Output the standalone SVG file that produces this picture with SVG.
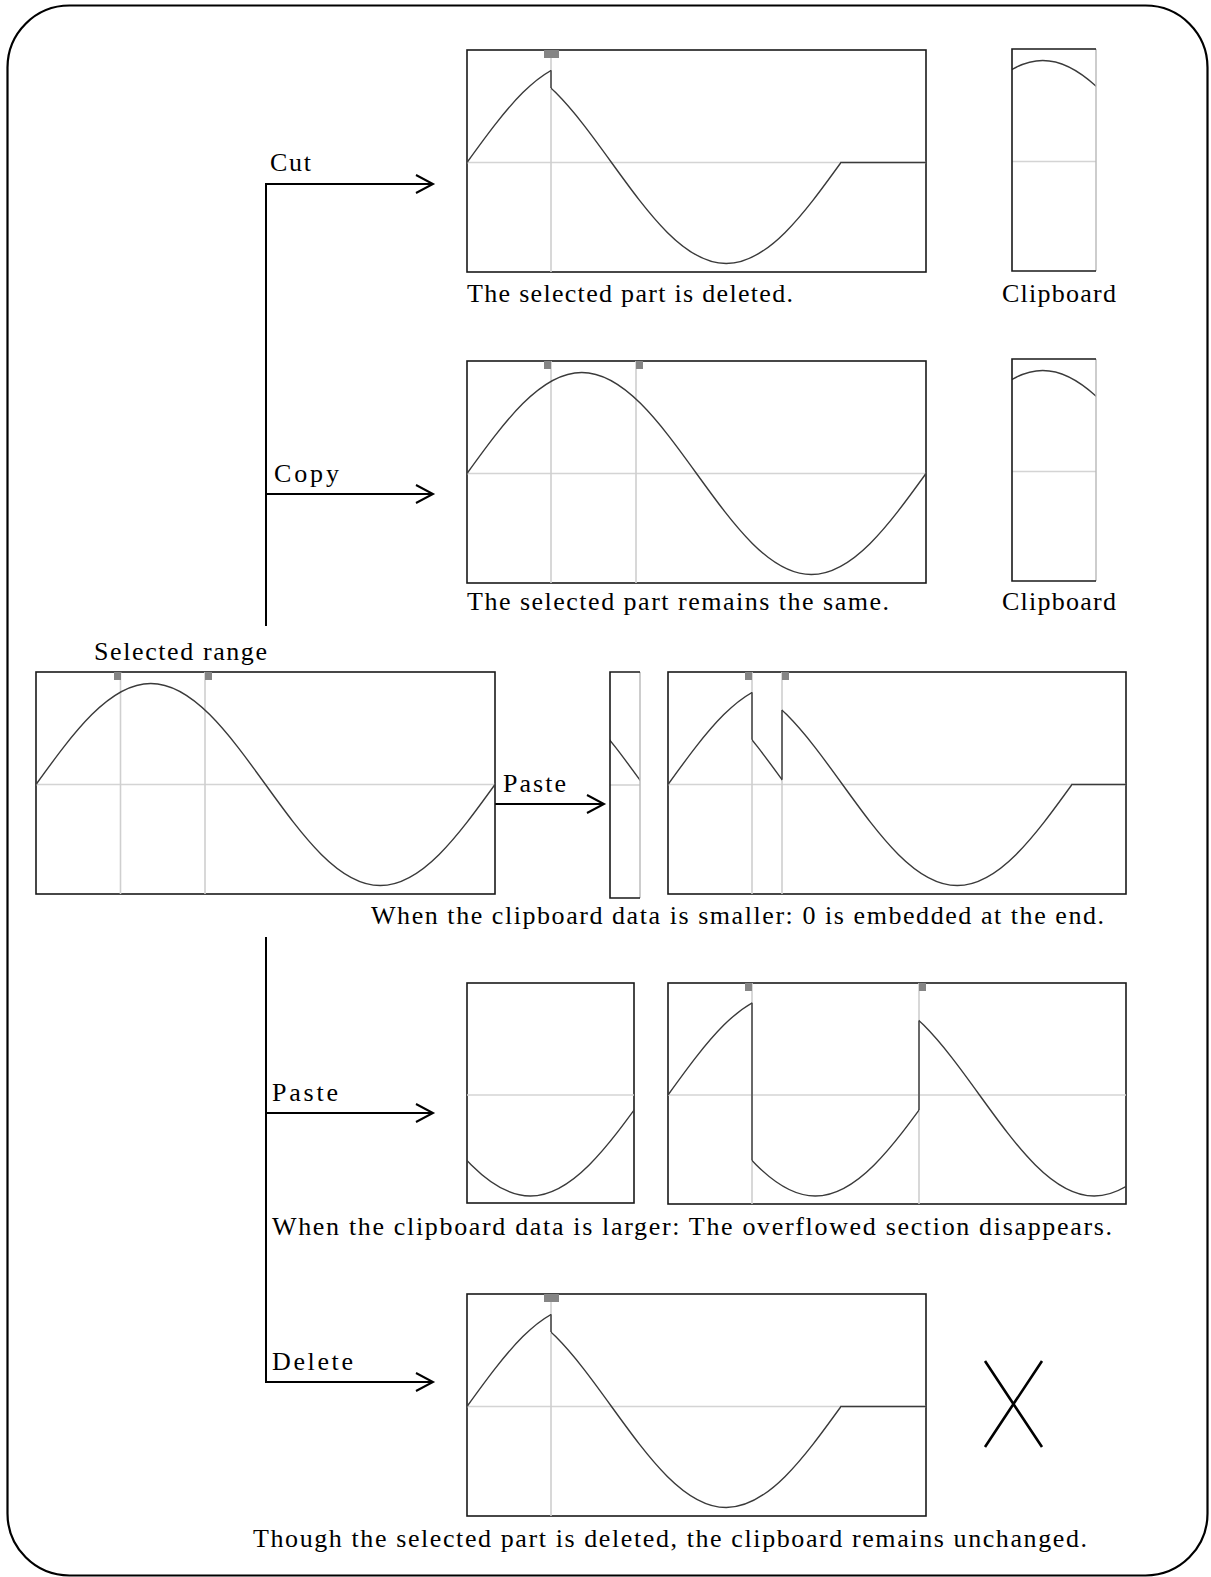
<svg xmlns="http://www.w3.org/2000/svg" xmlns:xlink="http://www.w3.org/1999/xlink" width="1211" height="1577" viewBox="0 0 1211 1577">
<style>
.t{font-family:"Liberation Serif","Times New Roman",serif;font-size:26px;fill:#000}
.frame{fill:#fff;stroke:#1a1a1a;stroke-width:1.6}
.edge{stroke:#1a1a1a;stroke-width:1.6;fill:none}
.ledge{stroke:#b8b8b8;stroke-width:1.4;fill:none}
.grid{stroke:#d4d4d4;stroke-width:1.6;fill:none}
.cur{stroke:#cfcfcf;stroke-width:1.6;fill:none}
.wave{stroke:#3a3a3a;stroke-width:1.4;fill:none}
.mk{fill:#858585}
.conn{stroke:#000;stroke-width:2;fill:none}
</style>
<defs>
<path id="sw" class="wave" d="M0,0 C37.42,-51.74 73.22,-101 114.75,-101 C156.28,-101 192.08,-51.74 229.5,0 C266.92,51.74 302.72,101 344.25,101 C385.78,101 421.58,51.74 459,0 C496.42,-51.74 532.22,-101 573.75,-101 C615.28,-101 651.08,-51.74 688.5,0 C725.92,51.74 761.72,101 803.25,101 C844.78,101 880.58,51.74 918,0"/>
<marker id="ah" markerUnits="userSpaceOnUse" markerWidth="24" markerHeight="24" refX="18" refY="10" orient="auto" viewBox="0 0 24 20">
<path d="M1,1 L18,10 L1,19" fill="none" stroke="#000" stroke-width="2"/>
</marker>
<clipPath id="kc1"><rect x="467" y="40" width="84" height="250"/></clipPath>
<clipPath id="kc2"><rect x="551" y="40" width="290" height="250"/></clipPath>
<clipPath id="kb1"><rect x="1012" y="40" width="84" height="250"/></clipPath>
<clipPath id="kp"><rect x="467" y="350" width="459" height="250"/></clipPath>
<clipPath id="kb2"><rect x="1012" y="350" width="84" height="250"/></clipPath>
<clipPath id="ks"><rect x="36" y="660" width="459" height="250"/></clipPath>
<clipPath id="kb3"><rect x="610" y="660" width="30" height="250"/></clipPath>
<clipPath id="kr1"><rect x="668" y="660" width="84" height="250"/></clipPath>
<clipPath id="kr2"><rect x="752" y="660" width="30" height="250"/></clipPath>
<clipPath id="kr3"><rect x="782" y="660" width="290" height="250"/></clipPath>
<clipPath id="kb4"><rect x="467" y="970" width="167" height="250"/></clipPath>
<clipPath id="kq1"><rect x="668" y="970" width="84" height="250"/></clipPath>
<clipPath id="kq2"><rect x="752" y="970" width="167" height="250"/></clipPath>
<clipPath id="kq3"><rect x="919" y="970" width="207" height="250"/></clipPath>
<clipPath id="kd1"><rect x="467" y="1280" width="84" height="250"/></clipPath>
<clipPath id="kd2"><rect x="551" y="1280" width="290" height="250"/></clipPath>
</defs>
<rect x="0" y="0" width="1211" height="1577" fill="#fff"/>
<rect x="7.5" y="5.5" width="1200" height="1570" rx="62" ry="62" fill="none" stroke="#000" stroke-width="2.2"/>

<g id="connectors">
<path class="conn" d="M266,626 V184 H433" marker-end="url(#ah)"/>
<path class="conn" d="M266,494 H433" marker-end="url(#ah)"/>
<path class="conn" d="M495,804 H604" marker-end="url(#ah)"/>
<path class="conn" d="M266,937 V1382 H433" marker-end="url(#ah)"/>
<path class="conn" d="M266,1113 H433" marker-end="url(#ah)"/>
<text class="t" x="270" y="171" textLength="41" lengthAdjust="spacing">Cut</text>
<text class="t" x="274" y="482" textLength="65" lengthAdjust="spacing">Copy</text>
<text class="t" x="503" y="792" textLength="63" lengthAdjust="spacing">Paste</text>
<text class="t" x="272" y="1101" textLength="66" lengthAdjust="spacing">Paste</text>
<text class="t" x="272" y="1370" textLength="81" lengthAdjust="spacing">Delete</text>
</g>

<g id="cut-result">
<rect class="frame" x="467" y="50" width="459" height="222"/>
<line class="grid" x1="467" y1="162.5" x2="926" y2="162.5"/>
<line class="cur" x1="551" y1="50" x2="551" y2="272"/>
<rect class="mk" x="544" y="50" width="15" height="8"/>
<g clip-path="url(#kc1)"><use xlink:href="#sw" x="467" y="162.5"/></g>
<g clip-path="url(#kc2)"><use xlink:href="#sw" x="382" y="162.5"/></g>
<path class="wave" d="M551,70.3 V88.1 M841,162.5 H926"/>
<text class="t" x="467" y="302" textLength="326" lengthAdjust="spacing">The selected part is deleted.</text>
</g>

<g id="cut-clipboard">
<rect x="1012" y="49" width="84" height="222" fill="#fff"/>
<line class="grid" x1="1012" y1="161.5" x2="1096" y2="161.5"/>
<g clip-path="url(#kb1)"><use xlink:href="#sw" x="928" y="161.5"/></g>
<path class="ledge" d="M1096,49 V271"/>
<path class="edge" d="M1096,49 H1012 V271 H1096"/>
<text class="t" x="1002" y="302" textLength="114" lengthAdjust="spacing">Clipboard</text>
</g>

<g id="copy-result">
<rect class="frame" x="467" y="361" width="459" height="222"/>
<line class="grid" x1="467" y1="473.5" x2="926" y2="473.5"/>
<line class="cur" x1="551" y1="361" x2="551" y2="583"/>
<line class="cur" x1="636" y1="361" x2="636" y2="583"/>
<rect class="mk" x="544" y="361" width="7" height="8"/>
<rect class="mk" x="636" y="361" width="7" height="8"/>
<g clip-path="url(#kp)"><use xlink:href="#sw" x="467" y="473.5"/></g>
<text class="t" x="467" y="610" textLength="422" lengthAdjust="spacing">The selected part remains the same.</text>
</g>

<g id="copy-clipboard">
<rect x="1012" y="359" width="84" height="222" fill="#fff"/>
<line class="grid" x1="1012" y1="471.5" x2="1096" y2="471.5"/>
<g clip-path="url(#kb2)"><use xlink:href="#sw" x="928" y="471.5"/></g>
<path class="ledge" d="M1096,359 V581"/>
<path class="edge" d="M1096,359 H1012 V581 H1096"/>
<text class="t" x="1002" y="610" textLength="114" lengthAdjust="spacing">Clipboard</text>
</g>

<g id="selected">
<text class="t" x="94" y="660" textLength="173" lengthAdjust="spacing">Selected range</text>
<rect class="frame" x="36" y="672" width="459" height="222"/>
<line class="grid" x1="36" y1="784.5" x2="495" y2="784.5"/>
<line class="cur" x1="120.5" y1="672" x2="120.5" y2="894"/>
<line class="cur" x1="205" y1="672" x2="205" y2="894"/>
<rect class="mk" x="114" y="672" width="7" height="8"/>
<rect class="mk" x="205" y="672" width="7" height="8"/>
<g clip-path="url(#ks)"><use xlink:href="#sw" x="36" y="784.5"/></g>
</g>

<g id="small-clipboard">
<rect x="610" y="672" width="30" height="226" fill="#fff"/>
<line class="grid" x1="610" y1="785" x2="640" y2="785"/>
<g clip-path="url(#kb3)"><use xlink:href="#sw" x="414" y="785"/></g>
<path class="ledge" d="M640,672 V898"/>
<path class="edge" d="M640,672 H610 V898 H640"/>
</g>

<g id="paste-smaller">
<rect class="frame" x="668" y="672" width="458" height="222"/>
<line class="grid" x1="668" y1="784.5" x2="1126" y2="784.5"/>
<line class="cur" x1="752" y1="672" x2="752" y2="894"/>
<line class="cur" x1="782" y1="672" x2="782" y2="894"/>
<rect class="mk" x="745" y="672" width="7" height="8"/>
<rect class="mk" x="782" y="672" width="7" height="8"/>
<g clip-path="url(#kr1)"><use xlink:href="#sw" x="668" y="784.5"/></g>
<g clip-path="url(#kr2)"><use xlink:href="#sw" x="556" y="784.5"/></g>
<g clip-path="url(#kr3)"><use xlink:href="#sw" x="613" y="784.5"/></g>
<path class="wave" d="M752,692.3 V739.8 M782,779.7 V710.1 M1072,784.5 H1126"/>
<text class="t" x="371" y="924" textLength="733" lengthAdjust="spacing">When the clipboard data is smaller: 0 is embedded at the end.</text>
</g>

<g id="large-clipboard">
<rect class="frame" x="467" y="983" width="167" height="220"/>
<line class="grid" x1="467" y1="1095" x2="634" y2="1095"/>
<g clip-path="url(#kb4)"><use xlink:href="#sw" x="186" y="1095"/></g>
</g>

<g id="paste-larger">
<rect class="frame" x="668" y="983" width="458" height="221"/>
<line class="grid" x1="668" y1="1095" x2="1126" y2="1095"/>
<line class="cur" x1="752" y1="983" x2="752" y2="1204"/>
<line class="cur" x1="919" y1="983" x2="919" y2="1204"/>
<rect class="mk" x="745" y="983" width="7" height="8"/>
<rect class="mk" x="919" y="983" width="7" height="8"/>
<g clip-path="url(#kq1)"><use xlink:href="#sw" x="668" y="1095"/></g>
<g clip-path="url(#kq2)"><use xlink:href="#sw" x="471" y="1095"/></g>
<g clip-path="url(#kq3)"><use xlink:href="#sw" x="750" y="1095"/></g>
<path class="wave" d="M752,1002.8 V1160.5 M919,1110.2 V1020.6"/>
<text class="t" x="272" y="1235" textLength="840" lengthAdjust="spacing">When the clipboard data is larger: The overflowed section disappears.</text>
</g>

<g id="delete-result">
<rect class="frame" x="467" y="1294" width="459" height="222"/>
<line class="grid" x1="467" y1="1406.5" x2="926" y2="1406.5"/>
<line class="cur" x1="551" y1="1294" x2="551" y2="1516"/>
<rect class="mk" x="544" y="1294" width="15" height="8"/>
<g clip-path="url(#kd1)"><use xlink:href="#sw" x="467" y="1406.5"/></g>
<g clip-path="url(#kd2)"><use xlink:href="#sw" x="382" y="1406.5"/></g>
<path class="wave" d="M551,1314.3 V1332.1 M841,1406.5 H926"/>
<text class="t" x="253" y="1547" textLength="834" lengthAdjust="spacing">Though the selected part is deleted, the clipboard remains unchanged.</text>
</g>

<g id="no-clipboard">
<path d="M985,1361 L1042,1447 M1042,1361 L985,1447" stroke="#000" stroke-width="2.6" fill="none"/>
</g>
</svg>
